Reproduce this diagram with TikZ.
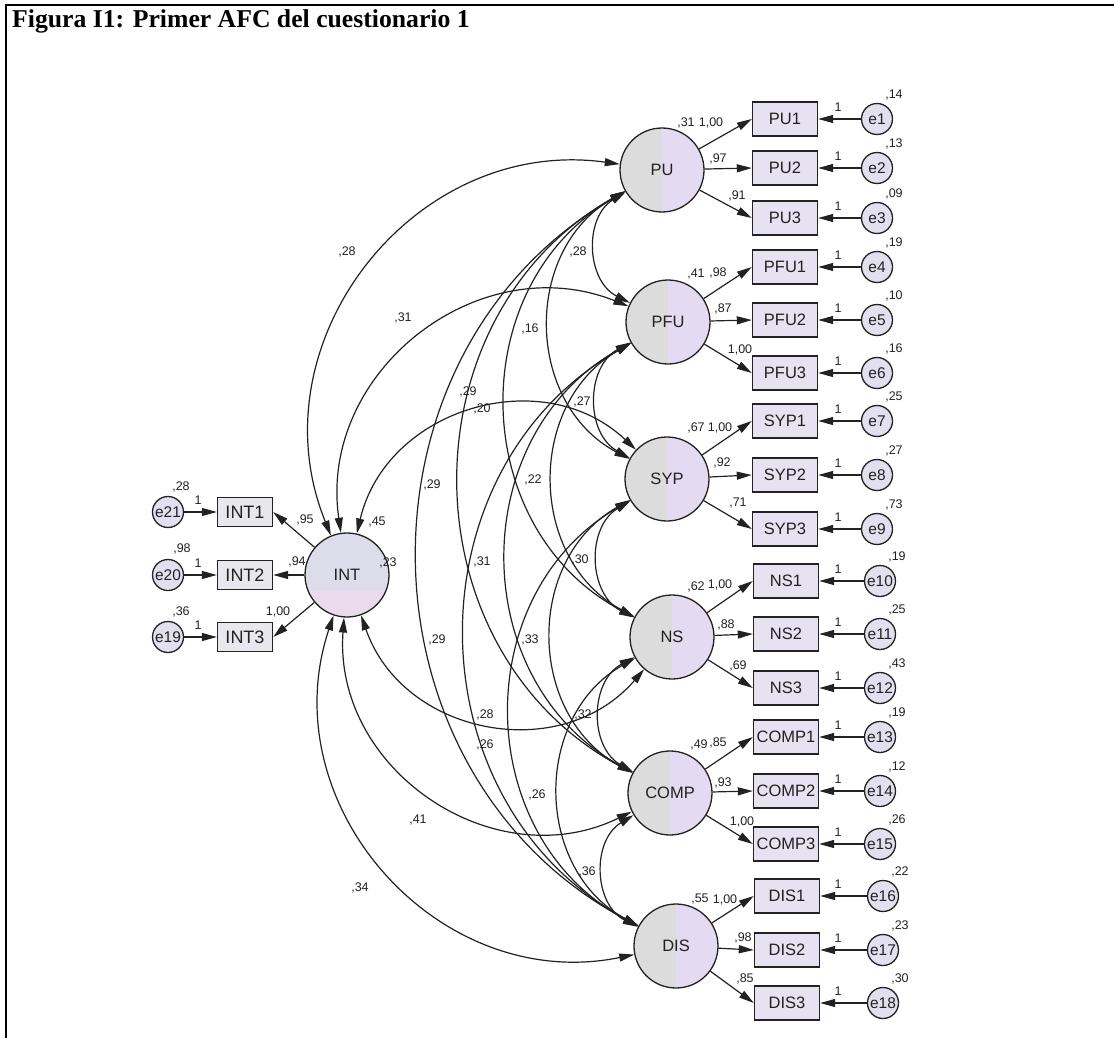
\documentclass[tikz,border=0pt]{standalone}
\usepackage{fontspec}
\setmainfont{Liberation Serif}
\newfontfamily\amosfont{Liberation Sans}
\usetikzlibrary{arrows.meta}

\definecolor{latleft}{HTML}{DCDCDC}
\definecolor{latright}{HTML}{E4DAF2}
\definecolor{intup}{HTML}{DDDCEB}
\definecolor{intlow}{HTML}{EBD9EC}
\definecolor{boxfill}{HTML}{E6E2F1}
\definecolor{intbox}{HTML}{E8E7EE}
\definecolor{errfill}{HTML}{E2E0EF}
\definecolor{ink}{HTML}{222222}

\tikzset{
  >={Triangle[length=15pt,width=8pt]},
  latent/.style={circle, draw=ink, line width=1.3pt, minimum size=84pt, inner sep=0pt,
    fill=latright, text=ink, font=\amosfont\fontsize{16.5}{18}\selectfont,
    path picture={\fill[latleft] (path picture bounding box.south west)
      rectangle (path picture bounding box.north);}},
  intlatent/.style={circle, draw=ink, line width=1.3pt, minimum size=84pt, inner sep=0pt,
    fill=intup, text=ink, font=\amosfont\fontsize{16.5}{18}\selectfont,
    path picture={\fill[intlow] (path picture bounding box.south west)
      rectangle ([yshift=26pt]path picture bounding box.south east);}},
  indicator/.style={rectangle, draw=ink, line width=1.4pt, fill=boxfill,
    minimum width=65pt, minimum height=34pt, inner sep=0pt, text=ink,
    font=\amosfont\fontsize{16.5}{18}\selectfont},
  intind/.style={indicator, fill=intbox, minimum width=55pt, minimum height=29pt,
    font=\amosfont\fontsize{18}{20}\selectfont},
  errc/.style={circle, draw=ink, line width=1.3pt, fill=errfill, minimum size=31pt,
    inner sep=0pt, text=ink, font=\amosfont\fontsize{15.5}{17}\selectfont},
  loadarrow/.style={->, draw=ink, line width=1.2pt},
  covarc/.style={<->, draw=ink, line width=1.2pt, looseness=1.13},
  num/.style={inner sep=0pt, text=ink, font=\amosfont\fontsize{12.5}{14}\selectfont},
}

\begin{document}
\begin{tikzpicture}[x=1pt,y=-1pt]
\useasboundingbox (0,0) rectangle (1114,1038);
\fill[white] (0,0) rectangle (1114,1038);

% frame and caption
\coordinate (frameL) at (6,5);
\coordinate (frameR) at (1114,5);
\coordinate (frameB) at (6,1038);
\draw[line width=2pt] (frameB) -- (frameL) -- (frameR);
\node[anchor=base west, inner sep=0pt, font=\bfseries\fontsize{25.7}{30}\selectfont]
  (title) at (12,28) {Figura I1: Primer AFC del cuestionario 1};

% latent factors
\node[latent] (PU)   at (662,170) {PU};
\node[latent] (PFU)  at (668,322) {PFU};
\node[latent] (SYP)  at (667,479) {SYP};
\node[latent] (NS)   at (672,637) {NS};
\node[latent] (COMP) at (670,793) {COMP};
\node[latent] (DIS)  at (676,946) {DIS};
\node[intlatent] (INT) at (347,575) {INT};

% observed indicators
\node[indicator] (PU1)   at (785,119)  {PU1};
\node[indicator] (PU2)   at (785,168)  {PU2};
\node[indicator] (PU3)   at (785,218)  {PU3};
\node[indicator] (PFU1)  at (785,267)  {PFU1};
\node[indicator] (PFU2)  at (785,320)  {PFU2};
\node[indicator] (PFU3)  at (785,373)  {PFU3};
\node[indicator] (SYP1)  at (785,421)  {SYP1};
\node[indicator] (SYP2)  at (785,475)  {SYP2};
\node[indicator] (SYP3)  at (785,529)  {SYP3};
\node[indicator] (NS1)   at (786,581)  {NS1};
\node[indicator] (NS2)   at (786,634)  {NS2};
\node[indicator] (NS3)   at (786,688)  {NS3};
\node[indicator] (COMP1) at (786,737)  {COMP1};
\node[indicator] (COMP2) at (786,791)  {COMP2};
\node[indicator] (COMP3) at (786,844)  {COMP3};
\node[indicator] (DIS1)  at (787,896)  {DIS1};
\node[indicator] (DIS2)  at (787,950)  {DIS2};
\node[indicator] (DIS3)  at (787,1003) {DIS3};
\node[intind] (INT1) at (245,512) {INT1};
\node[intind] (INT2) at (245,575) {INT2};
\node[intind] (INT3) at (245,637) {INT3};

% error terms
\node[errc] (e1)  at (877,119)  {e1};
\node[errc] (e2)  at (877,168)  {e2};
\node[errc] (e3)  at (877,218)  {e3};
\node[errc] (e4)  at (877,267)  {e4};
\node[errc] (e5)  at (877,320)  {e5};
\node[errc] (e6)  at (877,373)  {e6};
\node[errc] (e7)  at (877,421)  {e7};
\node[errc] (e8)  at (877,475)  {e8};
\node[errc] (e9)  at (877,529)  {e9};
\node[errc] (e10) at (880,581)  {e10};
\node[errc] (e11) at (880,634)  {e11};
\node[errc] (e12) at (880,688)  {e12};
\node[errc] (e13) at (880,737)  {e13};
\node[errc] (e14) at (880,791)  {e14};
\node[errc] (e15) at (880,844)  {e15};
\node[errc] (e16) at (883,896)  {e16};
\node[errc] (e17) at (883,950)  {e17};
\node[errc] (e18) at (883,1003) {e18};
\node[errc] (e21) at (168,512) {e21};
\node[errc] (e20) at (168,575) {e20};
\node[errc] (e19) at (168,637) {e19};

% factor loadings
\foreach \f/\a/\b/\c in {PU/PU1/PU2/PU3, PFU/PFU1/PFU2/PFU3, SYP/SYP1/SYP2/SYP3,
    NS/NS1/NS2/NS3, COMP/COMP1/COMP2/COMP3, DIS/DIS1/DIS2/DIS3}{
  \draw[loadarrow] (\f) -- (\a.west);
  \draw[loadarrow] (\f) -- (\b.west);
  \draw[loadarrow] (\f) -- (\c.west);
}
\draw[loadarrow] (INT) -- (INT1.east);
\draw[loadarrow] (INT) -- (INT2.east);
\draw[loadarrow] (INT) -- (INT3.east);

% error paths
\foreach \e/\v in {e1/PU1, e2/PU2, e3/PU3, e4/PFU1, e5/PFU2, e6/PFU3, e7/SYP1, e8/SYP2,
    e9/SYP3, e10/NS1, e11/NS2, e12/NS3, e13/COMP1, e14/COMP2, e15/COMP3, e16/DIS1,
    e17/DIS2, e18/DIS3, e21/INT1, e20/INT2, e19/INT3}{
  \draw[loadarrow] (\e) -- (\v);
}

% covariances between factors
\foreach \a/\b in {PU/PFU, PU/SYP, PU/NS, PU/COMP, PU/DIS, PFU/SYP, PFU/NS, PFU/COMP,
    PFU/DIS, SYP/NS, SYP/COMP, SYP/DIS, NS/COMP, NS/DIS, COMP/DIS}{
  \draw[covarc] (\a) to[bend right=61] (\b);
}
\foreach \b in {PU, PFU, SYP}{
  \draw[covarc] (INT) to[bend left=60] (\b);
}
\foreach \b in {NS, COMP, DIS}{
  \draw[covarc] (INT) to[bend right=60] (\b);
}

% factor variances
\node[num] (vPU)   at (686,123) {,31};
\node[num] (vPFU)  at (696,274) {,41};
\node[num] (vSYP)  at (696,428) {,67};
\node[num] (vNS)   at (696,587) {,62};
\node[num] (vCOMP) at (699,745) {,49};
\node[num] (vDIS)  at (700,899) {,55};
\node[num] (vINT)  at (377,522) {,45};

% loading estimates
\node[num] (lPU1)   at (711,123) {1,00};
\node[num] (lPU2)   at (718,159) {,97};
\node[num] (lPU3)   at (737,196) {,91};
\node[num] (lPFU1)  at (718,273) {,98};
\node[num] (lPFU2)  at (723,309) {,87};
\node[num] (lPFU3)  at (740,350) {1,00};
\node[num] (lSYP1)  at (720,428) {1,00};
\node[num] (lSYP2)  at (722,463) {,92};
\node[num] (lSYP3)  at (738,503) {,71};
\node[num] (lNS1)   at (720,585) {1,00};
\node[num] (lNS2)   at (726,625) {,88};
\node[num] (lNS3)   at (738,666) {,69};
\node[num] (lCOMP1) at (718,743) {,85};
\node[num] (lCOMP2) at (723,783) {,93};
\node[num] (lCOMP3) at (742,822) {1,00};
\node[num] (lDIS1)  at (725,900) {1,00};
\node[num] (lDIS2)  at (743,938) {,98};
\node[num] (lDIS3)  at (745,979) {,85};
\node[num] (lINT1)  at (305,520) {,95};
\node[num] (lINT2)  at (297,562) {,94};
\node[num] (lINT3)  at (278,612) {1,00};

% fixed error paths
\foreach \r [count=\i] in {119,168,218,267,320,373,421,475,529,581,634,688,737,791,844,896,950,1003}{
  \node[num] (one\i) at (838,\r-12) {1};
}
\node[num] (one21) at (198,500) {1};
\node[num] (one20) at (198,563) {1};
\node[num] (one19) at (198,625) {1};

% error variances
\node[num] (ve1)  at (894,95)  {,14};
\node[num] (ve2)  at (894,144) {,13};
\node[num] (ve3)  at (894,194) {,09};
\node[num] (ve4)  at (894,243) {,19};
\node[num] (ve5)  at (894,296) {,10};
\node[num] (ve6)  at (894,349) {,16};
\node[num] (ve7)  at (894,397) {,25};
\node[num] (ve8)  at (894,451) {,27};
\node[num] (ve9)  at (894,505) {,73};
\node[num] (ve10) at (897,557) {,19};
\node[num] (ve11) at (897,610) {,25};
\node[num] (ve12) at (897,664) {,43};
\node[num] (ve13) at (897,713) {,19};
\node[num] (ve14) at (897,767) {,12};
\node[num] (ve15) at (897,820) {,26};
\node[num] (ve16) at (900,872) {,22};
\node[num] (ve17) at (900,926) {,23};
\node[num] (ve18) at (900,979) {,30};
\node[num] (ve21) at (181,487) {,28};
\node[num] (ve20) at (182,549) {,98};
\node[num] (ve19) at (181,612) {,36};

% covariance estimates
\node[num] (cINTPU)    at (347,252) {,28};
\node[num] (cINTPFU)   at (403,318) {,31};
\node[num] (cPUPFU)    at (578,252) {,28};
\node[num] (cPUSYP)    at (530,329) {,16};
\node[num] (cINTSYP)   at (468,392) {,29};
\node[num] (cPUNS)     at (482,409) {,20};
\node[num] (cPFUSYP)   at (582,402) {,27};
\node[num] (cPFUNS)    at (533,480) {,22};
\node[num] (cPUCOMP)   at (432,485) {,29};
\node[num] (cPFUCOMP)  at (482,562) {,31};
\node[num] (cSYPNS)    at (580,560) {,30};
\node[num] (cPFUDIS)   at (437,640) {,29};
\node[num] (cSYPCOMP)  at (530,640) {,33};
\node[num] (cSYPDIS)   at (485,715) {,28};
\node[num] (cNSCOMP)   at (583,715) {,32};
\node[num] (cINTNS)    at (485,745) {,26};
\node[num] (cNSDIS)    at (537,795) {,26};
\node[num] (cINTCOMP)  at (418,820) {,41};
\node[num] (cCOMPDIS)  at (587,872) {,36};
\node[num] (cINTDIS)   at (360,888) {,34};
\node[num] (cPUDIS)    at (388,563) {,23};
\end{tikzpicture}
\end{document}
